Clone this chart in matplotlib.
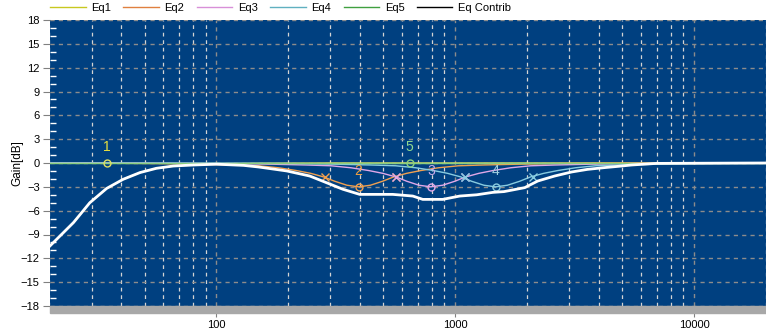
import matplotlib
matplotlib.use('Agg')
import matplotlib.pyplot as plt
from matplotlib.lines import Line2D
from matplotlib.patches import Rectangle
from matplotlib.ticker import MultipleLocator, NullFormatter

plt.rcParams['font.family'] = ['Liberation Sans', 'DejaVu Sans']

# ---- data ----
names = ['Eq1', 'Eq2', 'Eq3', 'Eq4', 'Eq5', 'Eq Contrib']

eq1_f = [20, 25.2, 29.5, 34.7, 40.7, 47.9, 56, 66, 80, 100, 150, 300, 20000]
eq1_g = [-10.5, -7.5, -5.0, -3.2, -2.05, -1.2, -0.67, -0.38, -0.2, -0.1, -0.03, 0, 0]

eq2_f = [20, 32, 57, 84, 118, 150, 182, 216, 248, 281, 313, 352, 394,
         441, 496, 552, 626, 717, 851, 1032, 1312, 1840, 2707, 4823, 20000]
eq3_f = [20, 65, 115, 169, 237, 302, 366, 434, 497, 564, 627, 705, 790,
         885, 995, 1106, 1256, 1438, 1706, 2070, 2631, 3689, 5427, 9670, 20000]
eq4_f = [20, 121, 215, 316, 443, 563, 683, 811, 928, 1054, 1171, 1318, 1476,
         1653, 1860, 2066, 2347, 2686, 3188, 3867, 4915, 6893, 10140, 18066, 20000]
bell_g = [0, -0.02, -0.07, -0.15, -0.25, -0.35, -0.6, -0.95, -1.3, -1.75, -2.3, -2.8, -3.0,
          -2.8, -2.3, -1.75, -1.3, -0.95, -0.6, -0.35, -0.25, -0.15, -0.07, -0.02, 0]

eq5_f = [20, 20000]
eq5_g = [0, 0]

sum_f = [20, 25.2, 29.5, 34.7, 40.7, 47.9, 56, 66, 80, 100, 130, 150, 197, 246, 289,
         338, 398, 547, 664, 731, 886, 1044, 1230, 1434, 1600, 1954, 2214, 2606,
         3070, 3580, 4220, 4970, 5470, 6960, 20000]
sum_g = [-10.5, -7.5, -5.0, -3.2, -2.05, -1.2, -0.67, -0.38, -0.25, -0.15, -0.3, -0.5,
         -1.0, -1.64, -2.48, -3.3, -3.95, -3.95, -4.16, -4.58, -4.58, -4.16, -4.0,
         -3.7, -3.6, -3.1, -2.27, -1.64, -1.13, -0.8, -0.58, -0.38, -0.25, -0.05, 0]

centre_f = [34.7, 394, 790, 1476, 644]
centre_g = [0, -3.0, -3.0, -3.0, 0]
band_f = [[], [284, 563], [563, 1100], [1100, 2112], []]
band_g = -1.75

line_cols = ['#e0e060', '#f0a050', '#e0a8e8', '#88cce0', '#8cd080', 'white']
legend_cols = ['#c8c820', '#e08040', '#d890d8', '#60b0c0', '#40a040', 'black']
label_cols = ['#e8e040', '#f0a040', '#c8a8e8', '#a0d0e0', '#90d890']

fig = plt.figure(figsize=(7.66, 3.31), dpi=100)
ax = fig.add_axes([49.5 / 766, 1 - 306 / 331, 716.5 / 766, 286 / 331])
ax.set_facecolor('#004080')
ax.set_xscale('log')
ax.set_xlim(20, 20000)
ax.set_ylim(-18, 18)

for s in ax.spines.values():
    s.set_visible(False)

ax.set_yticks(range(-18, 19, 3))
ax.yaxis.set_minor_locator(MultipleLocator(1))
ax.set_xticks([100, 1000, 10000])
ax.set_xticklabels(['100', '1000', '10000'])
ax.xaxis.set_minor_formatter(NullFormatter())
ax.tick_params(axis='y', which='major', direction='out', length=5, color='#808080',
               labelsize=8, pad=2)
ax.tick_params(axis='y', which='minor', direction='in', length=4, color='white', width=1)
ax.tick_params(axis='x', which='major', direction='out', length=8, color='#808080',
               labelsize=8, pad=2)
ax.tick_params(axis='x', which='minor', length=0)

dash = (0, (3, 3))
ax.grid(which='major', axis='x', color='#8c8c8c', linestyle=dash, lw=1)
ax.grid(which='minor', axis='x', color='#d4d4d4', linestyle=dash, lw=0.9)
ax.grid(which='major', axis='y', color='#8c8c8c', linestyle=dash, lw=1)
ax.set_axisbelow(True)

series = [(eq1_f, eq1_g), (eq2_f, bell_g), (eq3_f, bell_g), (eq4_f, bell_g), (eq5_f, eq5_g)]
for i, (f, g) in enumerate(series):
    ax.plot(f, g, color=line_cols[i], lw=1)
for i in range(5):
    for bf in band_f[i]:
        ax.plot(bf, band_g, marker='x', ms=6, mew=1, color=line_cols[i], ls='none')
    ax.plot(centre_f[i], centre_g[i], marker='o', ms=5, mfc='none', mew=1,
            color=line_cols[i], ls='none')
    ax.text(centre_f[i], centre_g[i] + 2.0, str(i + 1), color=label_cols[i],
            fontsize=10, ha='center', va='center')
ax.plot(sum_f, sum_g, color='white', lw=2)

# grey strip under the plot
fig.patches.append(Rectangle((49.5 / 766, 1 - 313 / 331), 716.5 / 766, 7 / 331,
                             transform=fig.transFigure, color='#a8a8a8', zorder=0))

fig.text(17 / 766, 1 - 163 / 331, 'Gain[dB]', rotation=90, ha='center', va='center',
         fontsize=8.5)

handles = [Line2D([], [], color=c, lw=1) for c in legend_cols]
fig.legend(handles, names, loc='upper left', bbox_to_anchor=(50 / 766, 1 - 3 / 331),
           ncol=6, frameon=False, fontsize=8, handlelength=3.2, handletextpad=0.5,
           columnspacing=1.12, borderpad=0, borderaxespad=0)

fig.savefig('out.png', dpi=100)
